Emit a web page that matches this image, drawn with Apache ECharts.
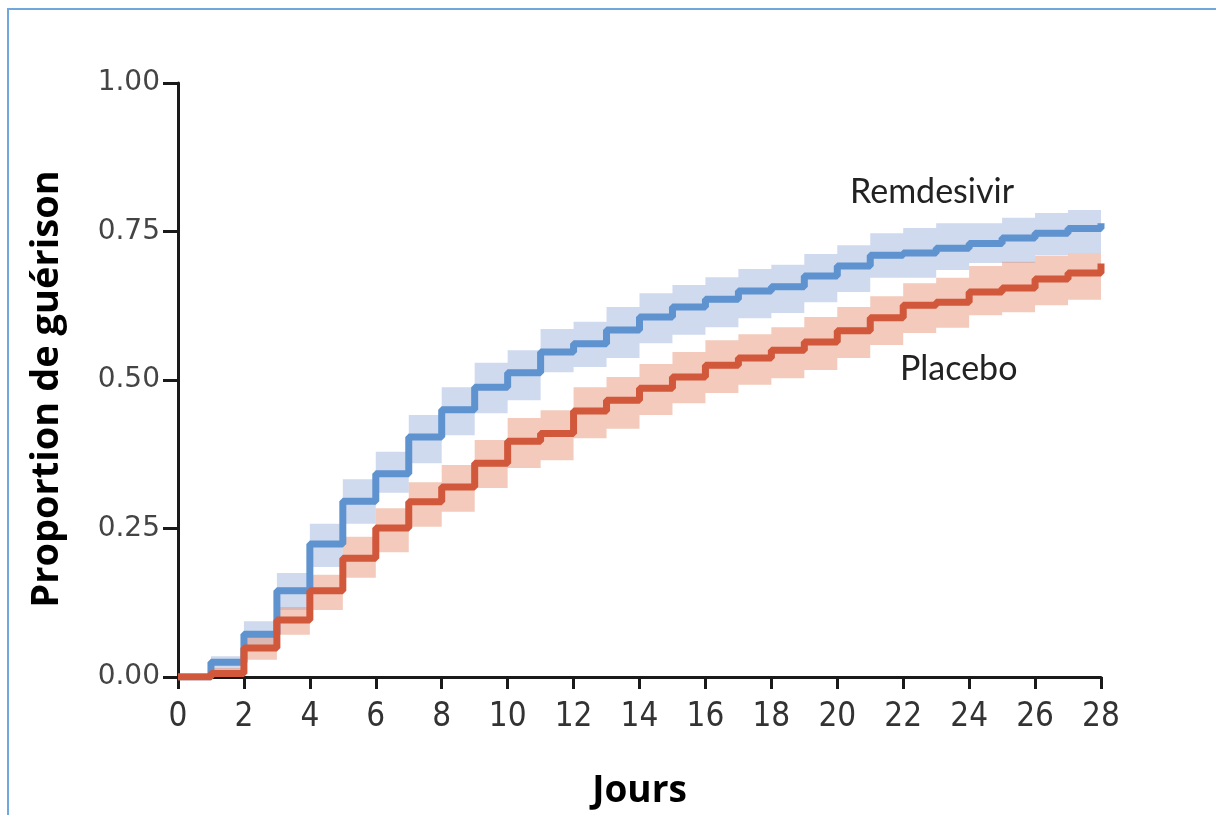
<!DOCTYPE html>
<html>
<head>
<meta charset="utf-8">
<script src="https://cdn.jsdelivr.net/npm/echarts@6/dist/echarts.min.js"></script>
<style>
  html, body { margin: 0; padding: 0; background: #fff; }
  #chart { width: 1216px; height: 815px; }
</style>
</head>
<body>
<div id="chart"></div>
<script>
// jours 0..28, valeur valable sur [j, j+1)
var days = [0,1,2,3,4,5,6,7,8,9,10,11,12,13,14,15,16,17,18,19,20,21,22,23,24,25,26,27,28];
var yTicks = ['0.00', '0.25', '0.50', '0.75', '1.00'];

var remLine  = [0,0.025,0.072,0.145,0.224,0.296,0.342,0.404,0.45,0.488,0.512,0.547,0.561,0.584,0.606,0.623,0.636,0.65,0.657,0.675,0.692,0.71,0.714,0.722,0.73,0.739,0.747,0.755,0.764];
var remUpper = [0.005,0.035,0.094,0.175,0.258,0.333,0.379,0.441,0.488,0.529,0.55,0.586,0.598,0.623,0.646,0.66,0.673,0.687,0.694,0.712,0.727,0.747,0.756,0.764,0.764,0.773,0.781,0.786,0.786];
var remLower = [0,0.012,0.05,0.113,0.185,0.258,0.31,0.36,0.407,0.444,0.466,0.513,0.522,0.537,0.562,0.576,0.589,0.604,0.613,0.631,0.648,0.672,0.672,0.685,0.697,0.697,0.71,0.714,0.714];

var plaLine  = [0,0.006,0.049,0.096,0.145,0.2,0.251,0.295,0.32,0.36,0.397,0.41,0.448,0.466,0.486,0.505,0.525,0.537,0.55,0.564,0.583,0.605,0.626,0.631,0.648,0.655,0.67,0.68,0.696];
var plaUpper = [0,0.015,0.071,0.118,0.172,0.236,0.284,0.328,0.357,0.399,0.436,0.449,0.488,0.505,0.527,0.547,0.567,0.577,0.589,0.606,0.623,0.641,0.663,0.672,0.692,0.699,0.709,0.714,0.714];
var plaLower = [0,0,0.029,0.071,0.113,0.167,0.21,0.253,0.278,0.318,0.352,0.365,0.402,0.418,0.441,0.461,0.478,0.492,0.503,0.517,0.537,0.559,0.579,0.588,0.609,0.614,0.626,0.635,0.635];

function pairs(vals) {
  return days.map(function (d, i) { return [d, vals[i]]; });
}

// intervalle de confiance en escalier : un seul polygone par groupe
function band(name, low, up, color) {
  var data = days.map(function (d, i) { return [d, low[i], up[i]]; });
  return {
    name: name, type: 'custom', silent: true, z: 1,
    data: data,
    encode: { x: 0, y: [1, 2] },
    renderItem: function (params, api) {
      if (params.dataIndex !== 0) return null;
      var top = [], bottom = [];
      for (var i = 0; i < data.length - 1; i++) {
        var x0 = data[i][0], x1 = data[i + 1][0];
        top.push(api.coord([x0, data[i][2]]), api.coord([x1, data[i][2]]));
        bottom.push(api.coord([x0, data[i][1]]), api.coord([x1, data[i][1]]));
      }
      return {
        type: 'polygon',
        shape: { points: top.concat(bottom.reverse()) },
        style: { fill: color }
      };
    }
  };
}

var chart = echarts.init(document.getElementById('chart'));

chart.setOption({
  animation: false,
  grid: { left: 178, right: 115, top: 83, bottom: 138 },
  xAxis: {
    type: 'value', min: 0, max: 28, interval: 2,
    name: 'Jours', nameLocation: 'middle', nameGap: 96,
    nameTextStyle: { fontFamily: 'Open Sans', fontWeight: 'bold', fontSize: 37, color: '#000' },
    axisLine: { lineStyle: { color: '#1a1a1a', width: 3 } },
    axisTick: { length: 12, lineStyle: { color: '#1a1a1a', width: 3 } },
    axisLabel: {
      margin: 24, fontSize: 33, color: '#333',
      fontFamily: '"Liberation Sans Narrow", "DejaVu Sans Condensed", sans-serif'
    },
    splitLine: { show: false }
  },
  yAxis: {
    type: 'value', min: 0, max: 1, interval: 0.25,
    name: 'Proportion de guérison', nameLocation: 'middle', nameGap: 112,
    nameTextStyle: {
      fontFamily: 'Open Sans', fontWeight: 'bold', fontSize: 38, color: '#000',
      padding: [0, 18, 0, 0]
    },
    axisLine: { lineStyle: { color: '#1a1a1a', width: 3 } },
    axisTick: { length: 15, lineStyle: { color: '#1a1a1a', width: 3 } },
    axisLabel: {
      margin: 18, fontSize: 28, color: '#444', fontFamily: 'DejaVu Sans',
      formatter: function (v) { return yTicks[Math.round(v / 0.25)]; }
    },
    splitLine: { show: false }
  },
  graphic: [
    {
      type: 'rect', silent: true, z: 0,
      shape: { x: 8, y: 9, width: 1300, height: 900 },
      style: { fill: 'none', stroke: '#70a8db', lineWidth: 2 }
    },
    {
      type: 'text', left: 850, top: 175, z: 10,
      style: { text: 'Remdesivir', font: '34px Lato', fill: '#222' }
    },
    {
      type: 'text', left: 900, top: 352, z: 10,
      style: { text: 'Placebo', font: '34px Lato', fill: '#222' }
    }
  ],
  series: [
    band('remCI', remLower, remUpper, 'rgba(160,182,224,0.5)'),
    band('plaCI', plaLower, plaUpper, 'rgba(232,150,120,0.5)'),
    {
      name: 'Remdesivir', type: 'line', step: 'end', data: pairs(remLine),
      showSymbol: false, lineStyle: { color: '#5e93cf', width: 7 }, z: 3
    },
    {
      name: 'Placebo', type: 'line', step: 'end', data: pairs(plaLine),
      showSymbol: false, lineStyle: { color: '#d1583b', width: 7 }, z: 4
    }
  ]
});
</script>
</body>
</html>
